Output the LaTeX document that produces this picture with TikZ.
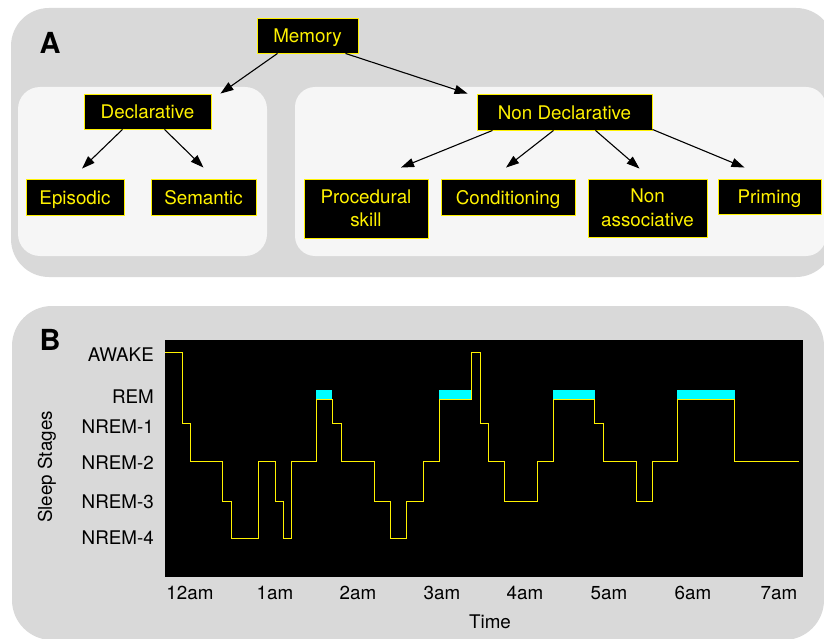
\documentclass[tikz,border=0pt]{standalone}
\usepackage{fontspec}
\setmainfont{TeX Gyre Heros}
\usepackage{tikz}
\usetikzlibrary{arrows.meta, calc}

\definecolor{panelgray}{HTML}{D9D9D9}
\definecolor{innergray}{HTML}{F6F6F6}
\definecolor{remcyan}{HTML}{00FFFF}

\tikzset{
    mem/.style={draw=yellow, fill=black, text=yellow, line width=0.9pt, inner sep=0pt,
        minimum height=35, align=center, font=\fontsize{18.8}{23.5}\selectfont},
    oneline/.style={mem, text height=16.5, text depth=1.5},
    link/.style={-{Triangle[length=13pt, width=9pt]}, line width=1.1pt},
    letter/.style={font=\fontsize{29}{30}\selectfont\bfseries},
    axislabel/.style={inner sep=0pt, font=\fontsize{18.8}{22}\selectfont},
}

\begin{document}
\begin{tikzpicture}[x=1pt, y=-1pt]
    \useasboundingbox (0,0) rectangle (824,639);
    \clip (0,0) rectangle (824,639);

    % panel A: memory tree
    \fill[panelgray, rounded corners=38] (11,8) rectangle (834,277);
    \fill[innergray, rounded corners=22] (18,87) rectangle (267,256);
    \fill[innergray, rounded corners=20] (295,87) rectangle (826,256);
    \node[letter] (lblA) at (50,43) {A};

    \node[oneline, minimum width=101] (memory) at (307.5,35.5) {Memory};
    \node[oneline, minimum width=127] (decl) at (147.5,111.5) {Declarative};
    \node[oneline, minimum width=175, minimum height=36] (nondecl) at (564.5,112) {Non Declarative};
    \node[oneline, minimum width=98, minimum height=36] (episodic) at (75,197) {Episodic};
    \node[oneline, minimum width=105, minimum height=36] (semantic) at (203.5,197) {Semantic};
    \node[mem, minimum width=124, minimum height=59] (procedural) at (366,208.5) {Procedural\\skill};
    \node[oneline, minimum width=134, minimum height=36] (cond) at (508,197) {Conditioning};
    \node[mem, minimum width=119, minimum height=58] (nonassoc) at (647.5,208) {Non\\associative};
    \node[oneline, minimum width=103] (priming) at (769.5,196.5) {Priming};

    \draw[link] ($(memory.south)+(-30,0)$) -- ($(decl.north east)+(9,0)$);
    \draw[link] ($(memory.south east)+(-13,0)$) -- ($(nondecl.north west)+(-9,0)$);
    \draw[link] ($(decl.south)+(-25,0)$) -- ($(episodic.north)+(7,-10)$);
    \draw[link] ($(decl.south)+(17,0)$) -- ($(semantic.north)+(0,-11)$);
    \draw[link] ($(nondecl.south)+(-72,0)$) -- ($(procedural.north)+(35,-11)$);
    \draw[link] ($(nondecl.south)+(-11,0)$) -- ($(cond.north)+(-2,-11)$);
    \draw[link] ($(nondecl.south)+(31,0)$) -- ($(nonassoc.north)+(-8,-10)$);
    \draw[link] ($(nondecl.south east)+(0,-1)$) -- ($(priming.north)+(-25,-11)$);

    % panel B: hypnogram
    \fill[panelgray, rounded corners=40] (12,306) rectangle (824,640);
    \node[letter] (lblB) at (50,340) {B};
    \fill[black] (165,340) rectangle (803,577);

    \draw[yellow, line width=1pt]
        (165,352) -| (182,423) -| (190,461) -| (222,501) -| (231,538) -| (258,461)
        -| (275,501) -| (283,538) -| (291,461) -| (316,399) -| (332,423) -| (341,461)
        -| (374,501) -| (390,538) -| (406,501) -| (423,461) -| (439,399) -| (471,352)
        -| (480,423) -| (488,461) -| (504,501) -| (537,461) -| (553,399) -| (594,423)
        -| (603,461) -| (636,501) -| (652,461) -| (677,399) -| (734,461) -- (799,461);

    \foreach \xa/\xb in {316/332, 439/471, 553/595, 677/735}
        \fill[remcyan] (\xa,390) rectangle (\xb,399);

    \foreach \name/\y in {AWAKE/355, REM/397, NREM-1/427, NREM-2/463, NREM-3/502, NREM-4/538}
        \node[axislabel, anchor=east] (s\y) at (154,\y) {\name};
    \foreach \name/\x in {12am/190, 1am/275, 2am/358, 3am/442, 4am/525, 5am/609, 6am/693, 7am/779}
        \node[axislabel] (t\x) at (\x,593) {\name};

    \node[axislabel] (timelbl) at (490,622) {Time};
    \node[axislabel, rotate=90] (stagelbl) at (47,467) {Sleep Stages};
\end{tikzpicture}
\end{document}
